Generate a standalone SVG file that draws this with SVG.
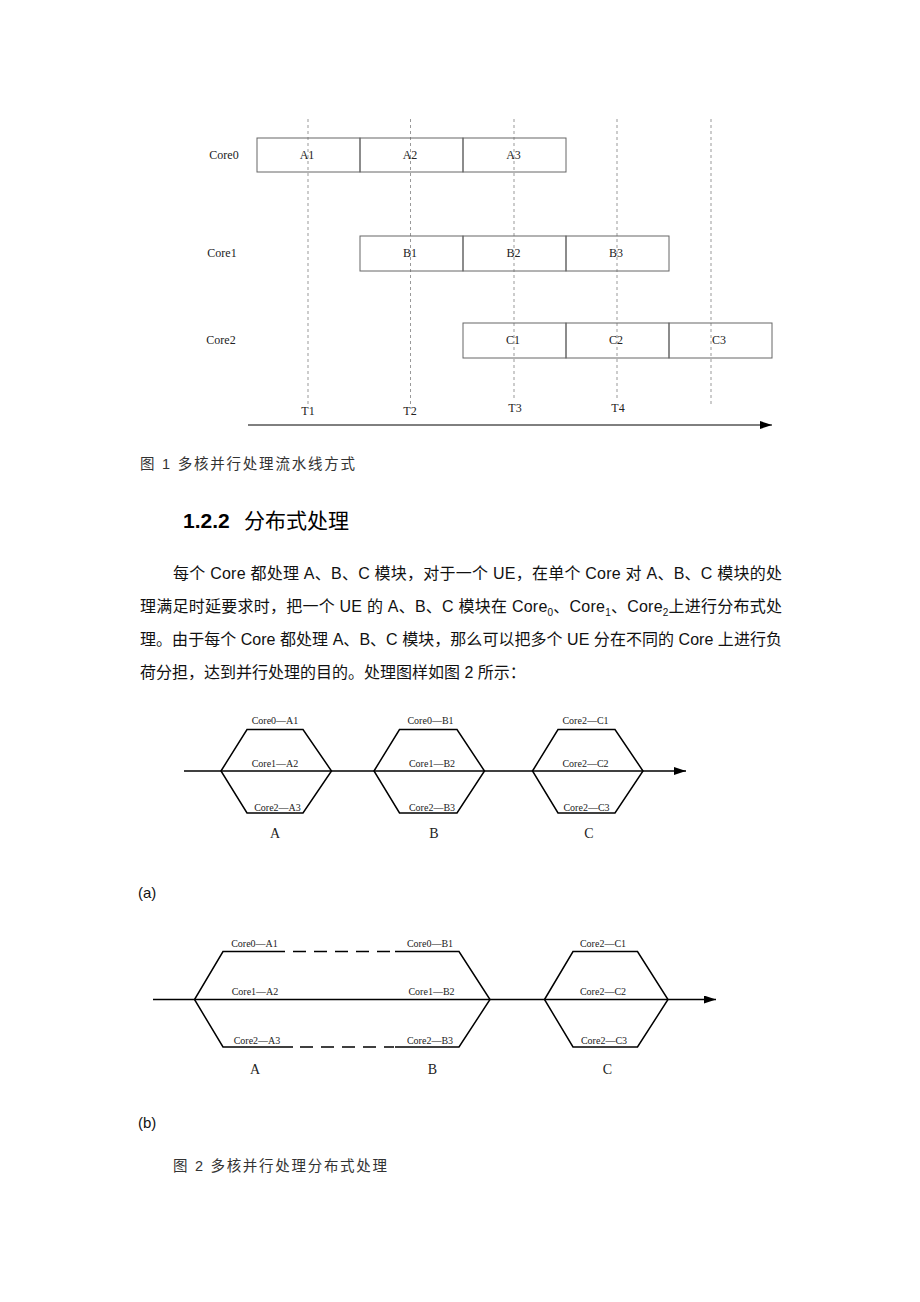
<svg xmlns="http://www.w3.org/2000/svg" width="920" height="1302" viewBox="0 0 920 1302">
<style>
.bg{fill:#fff}
.box{fill:none;stroke:#666;stroke-width:1}
.grid{stroke:#999;stroke-width:1;stroke-dasharray:3,3;fill:none}
.ln{stroke:#000;stroke-width:1.5;fill:none}
.ln1{stroke:#000;stroke-width:1;fill:none}
.dash{stroke:#000;stroke-width:1.5;fill:none;stroke-dasharray:13,8}
.t{font-family:"Liberation Serif","Times New Roman",serif;fill:#222}
.s12{font-size:12px}
.s10{font-size:10px}
.s13{font-size:14px}
.c{text-anchor:middle}
.p{font-family:"Liberation Sans","Noto Sans CJK SC",sans-serif;fill:#111}
.cap{font-family:"Liberation Sans","Noto Sans CJK SC",sans-serif;fill:#333;font-size:14.5px}
.h{font-family:"Liberation Sans","Noto Sans CJK SC",sans-serif;fill:#000}
</style>
<defs>
<marker id="ah" viewBox="0 0 12 8" refX="12" refY="4" markerWidth="12" markerHeight="8" markerUnits="userSpaceOnUse" orient="auto">
<path d="M0,0 L12,4 L0,8 Z" fill="#000"/>
</marker>
</defs>
<rect class="bg" x="0" y="0" width="920" height="1302"/>

<!-- Figure 1 -->
<g id="fig1-grid">
<line class="grid" x1="308" y1="119" x2="308" y2="404"/>
<line class="grid" x1="410.5" y1="119" x2="410.5" y2="404"/>
<line class="grid" x1="514" y1="119" x2="514" y2="400"/>
<line class="grid" x1="617" y1="119" x2="617" y2="401"/>
<line class="grid" x1="711" y1="119" x2="711" y2="406"/>
</g>
<g id="row-core0">
<text class="t s12 c" x="224" y="159">Core0</text>
<g id="A1"><rect class="box" x="257" y="138" width="103" height="34"/><text class="t s12 c" x="307" y="159">A1</text></g>
<g id="A2"><rect class="box" x="360" y="138" width="103" height="34"/><text class="t s12 c" x="410" y="159">A2</text></g>
<g id="A3"><rect class="box" x="463" y="138" width="103" height="34"/><text class="t s12 c" x="513.5" y="159">A3</text></g>
</g>
<g id="row-core1">
<text class="t s12 c" x="222" y="257">Core1</text>
<g id="B1"><rect class="box" x="360" y="236" width="103" height="35"/><text class="t s12 c" x="410" y="257">B1</text></g>
<g id="B2"><rect class="box" x="463" y="236" width="103" height="35"/><text class="t s12 c" x="513.5" y="257">B2</text></g>
<g id="B3"><rect class="box" x="566" y="236" width="103" height="35"/><text class="t s12 c" x="616" y="257">B3</text></g>
</g>
<g id="row-core2">
<text class="t s12 c" x="221" y="344">Core2</text>
<g id="C1"><rect class="box" x="463" y="323" width="103" height="35"/><text class="t s12 c" x="513" y="344">C1</text></g>
<g id="C2"><rect class="box" x="566" y="323" width="103" height="35"/><text class="t s12 c" x="616" y="344">C2</text></g>
<g id="C3"><rect class="box" x="669" y="323" width="103" height="35"/><text class="t s12 c" x="719" y="344">C3</text></g>
</g>
<g id="time-labels">
<text class="t s12 c" x="308" y="415">T1</text>
<text class="t s12 c" x="410" y="415">T2</text>
<text class="t s12 c" x="515" y="412">T3</text>
<text class="t s12 c" x="618" y="412">T4</text>
</g>
<g id="fig1-connectors">
<line class="ln1" x1="248" y1="425" x2="772" y2="425" marker-end="url(#ah)"/>
</g>
<text class="cap" x="140" y="469" textLength="215" lengthAdjust="spacing">图 1  多核并行处理流水线方式</text>

<!-- Heading and paragraph -->
<text class="h" x="183" y="528" font-size="21"><tspan font-weight="bold">1.2.2</tspan><tspan x="244">分布式处理</tspan></text>
<text class="p" x="173" y="579" font-size="16" textLength="609" lengthAdjust="spacing">每个 Core 都处理 A、B、C 模块，对于一个 UE，在单个 Core 对 A、B、C 模块的处</text>
<text class="p" x="140" y="612" font-size="16" textLength="642" lengthAdjust="spacing">理满足时延要求时，把一个 UE 的 A、B、C  模块在 Core<tspan font-size="10" dy="4">0</tspan><tspan dy="-4">、Core</tspan><tspan font-size="10" dy="4">1</tspan><tspan dy="-4">、Core</tspan><tspan font-size="10" dy="4">2</tspan><tspan dy="-4">上进行分布式处</tspan></text>
<text class="p" x="140" y="645" font-size="16" textLength="642" lengthAdjust="spacing">理。由于每个 Core 都处理 A、B、C 模块，那么可以把多个 UE 分在不同的 Core 上进行负</text>
<text class="p" x="140" y="678" font-size="16">荷分担，达到并行处理的目的。处理图样如图 2 所示：</text>

<!-- Figure 2a -->
<g id="fig2a-connectors">
<line class="ln" x1="184" y1="771" x2="686" y2="771" marker-end="url(#ah)"/>
</g>
<g id="hexA-a">
<path class="ln" d="M221,771 L247,729.5 L303,729.5 L331.5,771 L303,813 L247,813 Z"/>
<text class="t s10 c" x="275" y="723.5">Core0—A1</text>
<text class="t s10 c" x="275" y="766.5">Core1—A2</text>
<text class="t s10 c" x="277.5" y="810.5">Core2—A3</text>
<text class="t s13 c" x="275" y="838">A</text>
</g>
<g id="hexB-a">
<path class="ln" d="M374,771 L399.5,729.5 L457,729.5 L484.5,771 L457,813 L399.5,813 Z"/>
<text class="t s10 c" x="430.5" y="723.5">Core0—B1</text>
<text class="t s10 c" x="432" y="766.5">Core1—B2</text>
<text class="t s10 c" x="432" y="810.5">Core2—B3</text>
<text class="t s13 c" x="434" y="838">B</text>
</g>
<g id="hexC-a">
<path class="ln" d="M532.5,771 L558,729.5 L615,729.5 L643,771 L615,813 L558,813 Z"/>
<text class="t s10 c" x="585.5" y="723.5">Core2—C1</text>
<text class="t s10 c" x="585.5" y="766.5">Core2—C2</text>
<text class="t s10 c" x="586.5" y="810.5">Core2—C3</text>
<text class="t s13 c" x="589" y="838">C</text>
</g>
<text class="p" x="138" y="898" font-size="15">(a)</text>

<!-- Figure 2b -->
<g id="fig2b-connectors">
<line class="ln" x1="153" y1="999.5" x2="716" y2="999.5" marker-end="url(#ah)"/>
<line class="dash" x1="293" y1="951.5" x2="394" y2="951.5"/>
<line class="dash" x1="300" y1="1047" x2="394" y2="1047"/>
</g>
<g id="hexAB-b">
<path class="ln" d="M285,951.5 L223,951.5 L194.5,999.5 L223,1047 L293,1047"/>
<path class="ln" d="M395,951.5 L459,951.5 L490,999.5 L459,1047 L395,1047"/>
<text class="t s10 c" x="254.5" y="946.5">Core0—A1</text>
<text class="t s10 c" x="255" y="994.5">Core1—A2</text>
<text class="t s10 c" x="257" y="1043.5">Core2—A3</text>
<text class="t s10 c" x="430" y="946.5">Core0—B1</text>
<text class="t s10 c" x="431.5" y="994.5">Core1—B2</text>
<text class="t s10 c" x="430" y="1043.5">Core2—B3</text>
<text class="t s13 c" x="255" y="1074">A</text>
<text class="t s13 c" x="432.5" y="1074">B</text>
</g>
<g id="hexC-b">
<path class="ln" d="M544.5,999.5 L573,951.5 L637.5,951.5 L668,999.5 L637.5,1047 L573,1047 Z"/>
<text class="t s10 c" x="603" y="946.5">Core2—C1</text>
<text class="t s10 c" x="603" y="994.5">Core2—C2</text>
<text class="t s10 c" x="604" y="1043.5">Core2—C3</text>
<text class="t s13 c" x="607.5" y="1074">C</text>
</g>
<text class="p" x="138" y="1128" font-size="15">(b)</text>
<text class="cap" x="173" y="1171" textLength="214" lengthAdjust="spacing">图 2  多核并行处理分布式处理</text>
</svg>
